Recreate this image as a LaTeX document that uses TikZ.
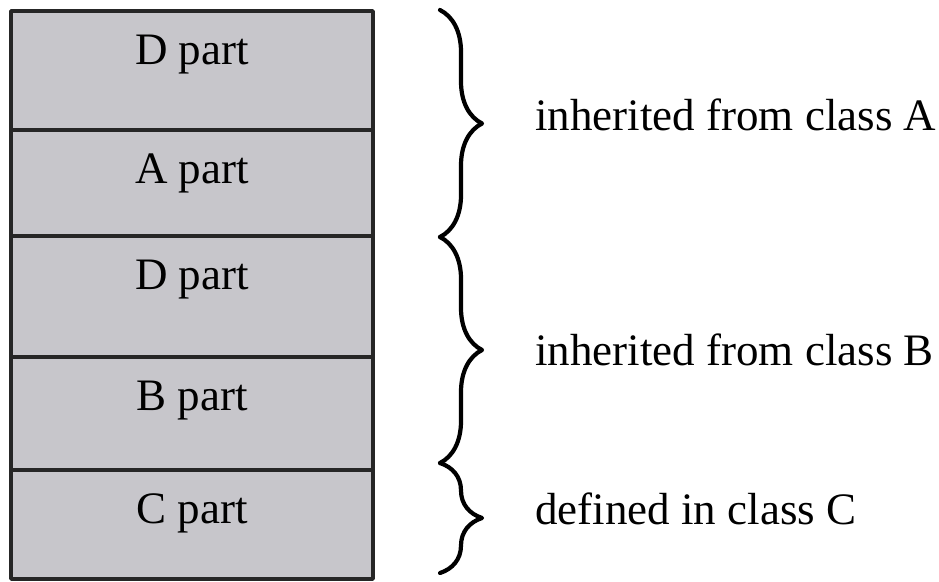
\documentclass[tikz,border=0pt]{standalone}
\usepackage{fontspec}
\setmainfont{Liberation Serif}
\usepackage{xcolor}
\usetikzlibrary{positioning,decorations.pathreplacing}
\definecolor{partgray}{RGB}{199,198,203}
\tikzset{
  every picture/.style={line join=round, line cap=round},
  part/.style={draw=black!85, line width=3.6pt, fill=partgray, minimum width=362pt,
    inner sep=0pt, outer sep=0pt, text height=53pt, font=\fontsize{45}{54}\selectfont},
  bracket/.style={decorate, decoration={brace, amplitude=42pt}, line width=4.2pt},
  note/.style={anchor=base west, inner sep=0pt, font=\fontsize{45}{54}\selectfont},
}
\begin{document}
\begin{tikzpicture}[x=1pt,y=-1pt]
\useasboundingbox (0,0) rectangle (939,581);
% object layout
\node[part,text depth=66pt,anchor=north west](dpa) at (11,11) {D part};
\node[part,text depth=53pt,below=0pt of dpa](apart) {A part};
\node[part,text depth=68pt,below=0pt of apart](dpb) {D part};
\node[part,text depth=60pt,below=0pt of dpb](bpart) {B part};
\node[part,text depth=56pt,below=0pt of bpart](cpart) {C part};
% braces
\coordinate (br0) at (440,10);
\coordinate (br1) at (440,237);
\coordinate (br2) at (440,463);
\coordinate (br3) at (440,573);
\draw[bracket](br0)--(br1);
\draw[bracket](br1)--(br2);
\draw[bracket](br2)--(br3);
\node[note](froma) at (535,130) {inherited from class A};
\node[note](fromb) at (535,365) {inherited from class B};
\node[note](inc) at (535,524) {defined in class C};
\end{tikzpicture}
\end{document}
